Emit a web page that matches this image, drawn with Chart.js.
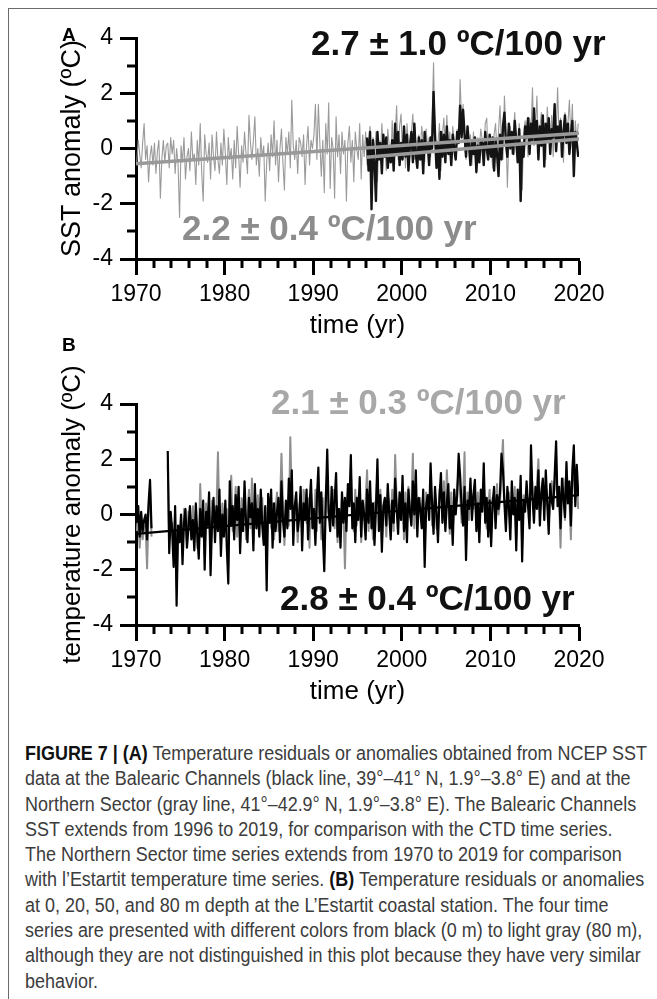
<!DOCTYPE html>
<html>
<head>
<meta charset="utf-8">
<script src="https://cdn.jsdelivr.net/npm/chart.js@4.4.1/dist/chart.umd.min.js"></script>
<style>
  html, body { margin: 0; padding: 0; background: #fff; }
  body { width: 657px; height: 999px; position: relative; overflow: hidden; font-family: 'Liberation Sans', Arial, sans-serif; }
  .frame-top { position: absolute; left: 8px; top: 8px; right: 0; border-top: 1px solid #6b6b6b; }
  .frame-left { position: absolute; left: 8px; top: 8px; bottom: 0; border-left: 1px solid #6b6b6b; }
  .wrap { position: absolute; left: 0; width: 657px; }
  #wrapA { top: 0; height: 345px; }
  #wrapB { top: 345px; height: 370px; }
  .panel { position: absolute; font-weight: bold; font-size: 19px; line-height: 19px; color: #000; }
  .rate { position: absolute; font-weight: bold; font-size: 35px; line-height: 35px; white-space: nowrap; }
  #caption { position: absolute; left: 25px; top: 741px; font-size: 19.5px; line-height: 25.3px; color: #3c3c3c; white-space: nowrap; transform-origin: 0 0; }
  #caption b { color: #111; }
</style>
</head>
<body>
<div class="frame-top"></div>
<div class="frame-left"></div>

<div class="wrap" id="wrapA"><canvas id="chartA" width="657" height="345"></canvas></div>
<div class="wrap" id="wrapB"><canvas id="chartB" width="657" height="370"></canvas></div>

<div class="panel" style="left:62px; top:25px;">A</div>
<div class="panel" style="left:62px; top:335px;">B</div>

<div class="rate" style="left:311px; top:25px; color:#111;">2.7 ± 1.0 ºC/100 yr</div>
<div class="rate" style="left:182px; top:210px; color:#8c8c8c;">2.2 ± 0.4 ºC/100 yr</div>
<div class="rate" style="left:271px; top:384px; color:#a8a8a8;">2.1 ± 0.3 ºC/100 yr</div>
<div class="rate" style="left:280px; top:580px; color:#111;">2.8 ± 0.4 ºC/100 yr</div>

<div id="caption"><span id="capLine1"><b>FIGURE 7 | (A)</b> Temperature residuals or anomalies obtained from NCEP SST</span><br>data at the Balearic Channels (black line, 39°–41° N, 1.9°–3.8° E) and at the<br>Northern Sector (gray line, 41°–42.9° N, 1.9°–3.8° E). The Balearic Channels<br>SST extends from 1996 to 2019, for comparison with the CTD time series.<br>The Northern Sector time series extends from 1970 to 2019 for comparison<br>with l’Estartit temperature time series. <b>(B)</b> Temperature residuals or anomalies<br>at 0, 20, 50, and 80 m depth at the L’Estartit coastal station. The four time<br>series are presented with different colors from black (0 m) to light gray (80 m),<br>although they are not distinguished in this plot because they have very similar<br>behavior.</div>

<script>
// ---- axes ----
var xTicks = [1970, 1980, 1990, 2000, 2010, 2020];
var xMinorTicks = [1972, 1974, 1976, 1978, 1982, 1984, 1986, 1988, 1992, 1994, 1996, 1998,
                   2002, 2004, 2006, 2008, 2012, 2014, 2016, 2018];
var yTicks = [-4, -2, 0, 2, 4];
var yMinorTicks = [-3, -1, 1, 3];

// ---- panel A: NCEP SST anomalies, 6 values per year ----
var northStart = 1970;
var northSST = [
  -0.5, 0.3, -0.2, -0.7, 0.2, 0.9,
  -0.4, 0.1, -1.2, -0.3, 0.1, -0.6,
  0.2, -0.9, -0.1, 0.3, -1.8, -0.4,
  0.3, -0.5, 0.1, 0.2, -0.7, 0.4,
  -0.2, 0.3, -0.9, 0.0, -0.6, -2.5,
  0.1, -0.5, 0.4, -1.1, -0.3, 0.0,
  -0.8, 0.6, -0.4, -0.2, -1.3, 0.3,
  -0.6, 0.9, -0.9, -1.9, 0.5, -0.2,
  -0.5, 0.2, -1.1, 0.5, -0.3, -0.8,
  0.6, -0.4, -0.9, 0.2, -0.6, 0.7,
  -0.2, -1.3, 0.4, -0.4, 0.0, -1.1,
  0.3, -0.7, 0.8, -0.2, -1.4, 0.1,
  -0.5, 0.6, -0.2, -0.9, 1.2, 0.2,
  -0.4, 0.3, 1.15, -0.6, 0.0, -1.0,
  0.4, -0.3, 0.1, -1.9, -0.5, 0.2,
  -0.8, 0.5, -0.3, 1.0, -0.6, 0.3,
  -1.2, 0.0, 0.7, -0.5, -1.5, 0.4,
  -0.2, 0.6, -0.7, 1.75, 0.1, -0.4,
  0.3, -0.9, 0.4, 0.2, -0.3, 0.5,
  -1.3, 0.1, 0.8, -0.6, 0.3, 0.0,
  0.5, 1.6, -0.4, 1.6, 0.2, -1.0,
  0.3, -1.6, 0.9, -0.2, 1.65, -1.45,
  0.4, 0.0, -1.8, 1.15, -0.3, 0.5,
  -0.9, 0.6, -0.2, 0.3, -1.9, 0.2,
  0.8, -0.5, 0.3, -1.2, 0.6, 0.0,
  -0.4, 0.9, -1.1, 0.5, -0.3, 0.6,
  -0.6, 0.2, 0.8, -0.9, 0.4, -0.3,
  0.6, -1.2, 0.3, -0.4, 0.9, -0.1,
  0.2, -0.8, 0.7, 0.1, -0.5, 1.0,
  -0.3, 0.5, 1.55, -0.4, 0.8, 1.25,
  -0.2, 0.4, -0.7, 0.9, 0.1, -0.3,
  0.6, 1.25, -0.4, 0.3, -0.6, 0.5,
  -0.1, 0.8, 0.2, -0.5, 0.7, 0.0,
  0.4, -0.3, 1.0, 3.1, 0.3, -0.6,
  0.2, 0.9, -0.8, 0.5, 1.1, -0.2,
  1.2, 0.0, 0.6, -0.5, 0.8, 0.3,
  -0.3, 0.7, 0.4, 2.5, 0.9, 1.6,
  0.2, -0.4, 0.8, 0.1, 0.5, -0.6,
  0.6, -0.2, -0.9, 0.4, 0.0, 0.7,
  0.3, -0.5, 0.9, 1.1, -0.3, 0.4,
  0.1, -0.7, 0.5, 0.9, -0.2, 0.6,
  1.55, 0.2, -0.4, 1.9, 0.7, -1.4,
  0.3, 0.8, -0.2, 0.6, 1.3, 0.0,
  -0.4, 0.9, 0.2, -1.5, 0.5, 1.0,
  0.4, -0.3, 1.1, 0.6, 2.2, 0.1,
  0.8, 1.9, -0.2, 0.7, 1.3, 0.3,
  0.9, -0.4, 1.5, 0.6, 0.2, 1.2,
  -0.3, 1.0, 0.5, 2.2, 0.4, 1.1,
  0.6, -0.5, 1.3, 0.2, 0.9, 1.75,
  0.4, 1.6, -0.2, 1.0, 0.3, 0.9
];
var balearicStart = 1996;
var balearicSST = [
  0.4, -0.8, 0.6, -2.2, 0.3, -0.5,
  -1.9, 0.6, -0.4, 0.2, -0.9, 0.5,
  -0.3, 0.4, -0.7, 0.0, -0.5, 0.3,
  -0.8, 0.9, -0.2, 0.6, -0.6, 0.2,
  -0.4, 0.8, -0.3, 0.5, -0.8, 0.1,
  0.6, -0.5, 0.9, -0.2, -0.7, 0.4,
  -0.4, 0.3, -0.9, 0.6, -0.1, 0.2,
  -0.6, 0.4, 0.0, 2.05, 0.5, -0.7,
  0.2, -1.1, 0.6, -0.3, 0.5, -0.5,
  0.8, -0.2, 0.3, -0.6, 0.5, 0.0,
  -0.4, 0.6, 0.2, 1.55, 0.4, 1.4,
  0.5, -0.3, 0.8, 0.1, -0.6, 0.3,
  -0.2, 0.4, -0.85, 0.1, -0.5, 0.3,
  0.2, -0.6, 0.6, 0.0, -0.4, 0.5,
  -0.3, 0.4, -0.8, 0.3, -0.2, -1.0,
  0.5, -0.4, 0.8, 1.3, 0.2, -0.3,
  0.9, 0.0, 0.6, -0.2, 1.0, 0.3,
  -0.5, 0.7, -1.9, 0.2, -0.3, 0.8,
  0.4, 1.1, -0.2, 0.9, 0.3, 1.45,
  0.2, 1.0, -0.4, 0.8, 0.1, 1.2,
  -0.65, 0.9, 0.3, 1.1, -0.2, 0.7,
  0.4, 1.6, -0.1, 0.8, 0.3, 1.0,
  -0.3, 0.6, 1.2, 0.2, 0.9, -0.2,
  0.5, 1.0, -1.0, 0.6, 0.2, -0.3
];
var northTrendYears = [1970, 2020];
var northTrend = [-0.55, 0.55];
var balearicTrendYears = [1996, 2020];
var balearicTrend = [-0.32, 0.34];

// ---- panel B: L'Estartit anomalies, 6 values per year (null = no data) ----
var estartitStart = 1970;
var estartit0m = [
  -0.3, 0.3, -0.8, 0.1, -0.6, -0.2,
  0.0, -0.9, 0.4, 1.25, -0.5, null,
  null, null, null, null, null, null,
  null, null, null, 2.3, -1.4, 0.1,
  -0.6, -1.9, 0.3, -3.3, -0.4, -1.0,
  0.0, -1.8, -0.3, 0.2, -1.2, -0.5,
  0.3, -0.9, -0.2, -1.3, 0.4, -0.7,
  -1.6, 0.2, -0.8, 0.5, -2.0, 0.1,
  -0.4, 0.8, -2.2, -0.3, 0.6, -1.0,
  0.3, -0.6, 0.9, -1.5, 0.0, -0.8,
  0.5, -1.2, -2.5, 1.2, -0.4, 0.3,
  -0.9, 0.7, -0.2, 1.0, -1.4, 0.2,
  -0.6, 1.2, -0.3, -1.0, 0.6, -0.1,
  0.4, -1.3, 1.1, -0.5, 0.2, -0.8,
  0.9, -0.4, -1.1, 0.3, -2.75, 0.75,
  -0.3, 0.9, -1.2, 0.4, -0.6, 0.1,
  0.6, -1.0, 1.2, -0.2, -0.8, 0.5,
  -0.5, 1.3, 0.2, 1.6, -1.1, 0.3,
  0.8, -0.6, -0.1, 1.0, -1.3, 0.4,
  -0.2, 0.9, -0.9, 0.3, 1.25, -0.5,
  0.2, -1.1, 0.6, 1.7, -0.3, 0.8,
  -0.7, -2.05, 0.4, 2.35, 0.1, -0.6,
  1.0, -0.4, 0.5, 1.5, -0.8, 0.2,
  -1.2, 0.8, -0.3, 0.6, -0.6, 1.1,
  0.3, 2.15, -0.5, 0.4, -1.0, 0.6,
  -0.2, 1.35, -0.8, 0.5, 0.0, -0.9,
  0.9, -0.3, 1.2, -0.5, 0.4, -1.1,
  0.2, 2.0, -0.6, 0.7, -1.35, 0.3,
  0.6, -0.4, 1.1, 0.0, -0.9, 0.5,
  -0.3, 1.3, 0.2, -0.7, 0.8, -0.2,
  1.4, -0.6, 0.4, -1.0, 0.9, 0.1,
  -0.4, 1.2, 0.0, 1.6, -0.8, 0.6,
  0.2, -0.5, 0.9, -1.9, 0.3, 0.7,
  -0.2, 1.85, 0.4, -0.7, 1.0, 0.1,
  -1.0, 0.6, 1.5, -0.3, 0.8, -0.6,
  0.4, 1.1, -0.5, 0.3, -1.1, 0.9,
  0.0, 0.7, 2.2, 1.4, 0.3, -0.4,
  1.0, -1.65, 0.5, 0.2, 1.3, -0.2,
  0.7, 1.25, -0.6, 0.4, -1.0, 0.9,
  0.1, 1.85, -0.3, 0.6, -0.8, 0.5,
  -1.15, 0.4, 1.0, -0.5, 0.7, 0.2,
  0.8, 2.2, 1.6, 0.4, -0.6, 1.0,
  0.3, -0.9, 1.2, 0.0, 0.6, -1.3,
  0.9, -0.2, 1.4, -1.7, 0.5, 0.1,
  1.2, 0.3, -0.5, 2.5, 0.6, -0.3,
  1.0, 0.2, 1.6, -0.4, 0.8, 1.3,
  -0.2, 1.6, 0.4, -0.7, 1.1, 0.5,
  0.2, 1.4, 2.65, 0.3, 1.0, -0.5,
  1.3, 0.6, -0.1, 1.9, 0.4, 1.2,
  -0.4, 1.6, 2.5, 0.3, 1.8, 0.7
];
var estartit80m = [
  -0.6, 0.0, -1.2, -0.3, -0.9, -0.5,
  -0.4, -1.95, 0.1, 0.9, -0.8, null,
  null, null, null, null, null, null,
  null, null, null, 1.8, -1.0, -0.3,
  -0.3, -1.5, 0.1, -2.6, -0.7, -0.4,
  -0.8, -1.2, 0.2, -0.4, -1.0, 0.1,
  0.0, -0.7, 0.3, -1.0, 0.1, -1.2,
  -1.0, 1.1, -0.5, 0.2, -1.5, 0.4,
  -0.2, 0.3, -1.6, 0.5, 0.1, -0.6,
  0.1, 2.25, -0.4, -1.1, 0.4, -0.3,
  -0.5, 0.2, -1.9, 0.6, 1.4, -0.6,
  -0.3, 1.0, -0.8, 0.4, -1.0, 0.6,
  0.2, 0.8, -0.9, -0.2, 0.9, -0.5,
  1.3, -1.0, 0.5, -0.1, 0.7, -0.4,
  0.2, 0.6, -0.8, 0.1, -2.0, 0.3,
  0.6, -0.5, 0.4, -0.9, 0.2, 0.8,
  -0.6, 0.3, 2.2, 0.4, -1.1, 0.1,
  0.3, -0.4, 2.8, 0.6, -0.6, 0.0,
  0.5, -1.0, 0.2, 0.7, -0.8, 0.9,
  0.4, -0.3, 0.6, -1.2, 0.8, 0.0,
  -0.4, 0.9, -0.6, 1.0, 0.3, -0.9,
  0.6, -1.4, 0.8, 1.4, -0.2, 0.3,
  0.4, 0.9, -0.5, 0.6, -1.0, 0.2,
  -0.5, 0.6, 0.1, -1.95, 0.4, 0.8,
  0.7, 1.6, 0.0, -0.6, 0.9, -0.4,
  0.6, 0.9, -1.0, 0.3, -0.2, 0.5,
  1.6, -0.6, 0.6, 0.1, -0.9, 0.4,
  0.5, 1.4, -0.3, 0.9, -1.0, 0.0,
  0.3, -0.8, 0.7, 0.4, -0.4, 0.9,
  -0.6, 2.15, 0.5, -0.2, 0.6, 0.3,
  0.9, -0.9, 0.8, -0.4, 1.0, -0.1,
  0.3, 2.2, -0.5, 0.9, -0.3, 0.4,
  0.6, -0.2, 0.5, -1.3, 0.8, 0.2,
  0.2, 1.3, -0.4, 0.1, 0.6, -0.5,
  -0.6, 0.9, 1.0, 0.2, 1.2, -0.3,
  1.6, 0.4, -0.7, 0.8, -0.5, 0.3,
  0.4, 1.0, 1.6, 0.7, -0.3, 0.5,
  2.25, -1.2, 0.8, -0.2, 0.9, 0.3,
  0.2, 0.9, -0.3, 0.8, -0.7, 0.4,
  0.6, 1.2, 0.0, -0.5, 0.3, 0.9,
  -0.7, 0.6, 0.4, -0.2, 1.1, 0.0,
  0.4, 1.6, 2.7, 0.6, -0.3, 0.7,
  0.8, -0.5, 0.6, 0.3, 1.0, -0.9,
  0.5, 0.2, 0.9, -1.2, 0.7, 0.4,
  0.8, 0.6, 0.0, 1.8, 1.0, 0.1,
  0.6, 1.1, 2.0, 0.2, 0.5, 0.9,
  0.3, 1.0, 0.7, -0.4, 0.8, 1.2,
  0.6, 0.9, 1.8, 0.5, 0.6, -1.2,
  0.9, 1.3, -0.2, 1.6, 0.8, 0.5,
  -0.9, 1.2, 1.9, 0.6, 1.3, 0.2
];
var estartitTrendYears = [1970, 2020];
var estartitTrend = [-0.7, 0.7];

// ---- helpers ----
function seriesPoints(startYear, values) {
  return values.map(function(v, i) { return { x: startYear + (i + 0.5) / 6, y: v }; });
}
function pairPoints(years, values) {
  return years.map(function(yr, i) { return { x: yr, y: values[i] }; });
}

Chart.defaults.font.family = "'Liberation Sans', Arial, sans-serif";
Chart.defaults.color = '#000';

var minorTickPlugin = {
  id: 'minorTicks',
  afterDraw: function(chart) {
    var ctx = chart.ctx, area = chart.chartArea;
    var xs = chart.scales.x, ys = chart.scales.y;
    ctx.save();
    ctx.strokeStyle = '#000';
    ctx.lineWidth = 3;
    xMinorTicks.forEach(function(v) {
      var px = Math.round(xs.getPixelForValue(v));
      ctx.beginPath(); ctx.moveTo(px, area.bottom); ctx.lineTo(px, area.bottom + 9); ctx.stroke();
    });
    yMinorTicks.forEach(function(v) {
      var py = Math.round(ys.getPixelForValue(v));
      ctx.beginPath(); ctx.moveTo(area.left - 9, py); ctx.lineTo(area.left, py); ctx.stroke();
    });
    ctx.restore();
  }
};

function panelOptions(yTitle, yTitleSize, padTop, xHeight, xTitlePad) {
  return {
    responsive: false,
    animation: false,
    events: [],
    layout: { padding: { top: padTop, right: 78, left: 0, bottom: 0 } },
    plugins: { legend: { display: false }, tooltip: { enabled: false } },
    scales: {
      x: {
        type: 'linear',
        min: 1970,
        max: 2020,
        afterBuildTicks: function(scale) { scale.ticks = xTicks.map(function(v) { return { value: v }; }); },
        afterFit: function(scale) { scale.height = xHeight; },
        grid: { display: true, drawOnChartArea: false, drawTicks: true, tickLength: 16, tickWidth: 3, tickColor: '#000' },
        border: { display: true, width: 3, color: '#000' },
        ticks: { font: { size: 23 }, padding: 6, color: '#000', maxRotation: 0, callback: function(v) { return String(v); } },
        title: { display: true, text: 'time (yr)', font: { size: 26 }, color: '#000', padding: { top: 0, bottom: xTitlePad } }
      },
      y: {
        type: 'linear',
        min: -4,
        max: 4,
        afterBuildTicks: function(scale) { scale.ticks = yTicks.map(function(v) { return { value: v }; }); },
        afterFit: function(scale) { scale.width = 136; },
        grid: { display: true, drawOnChartArea: false, drawTicks: true, tickLength: 16, tickWidth: 3, tickColor: '#000' },
        border: { display: true, width: 3, color: '#000' },
        ticks: { font: { size: 23 }, padding: 7, color: '#000' },
        title: { display: true, text: yTitle, font: { size: yTitleSize }, color: '#000', padding: { top: 73 - yTitleSize * 0.6, bottom: 0 } }
      }
    }
  };
}

document.addEventListener('DOMContentLoaded', function() {

  // Panel A
  new Chart(document.getElementById('chartA').getContext('2d'), {
    type: 'line',
    data: {
      datasets: [
        { label: 'Northern Sector trend', data: pairPoints(northTrendYears, northTrend), borderColor: '#999999', borderWidth: 3.5, pointRadius: 0, order: 0 },
        { label: 'Balearic Channels trend', data: pairPoints(balearicTrendYears, balearicTrend), borderColor: '#999999', borderWidth: 3.5, pointRadius: 0, order: 0 },
        { label: 'Balearic Channels', data: seriesPoints(balearicStart, balearicSST), borderColor: '#141414', borderWidth: 2.4, pointRadius: 0, tension: 0, borderJoinStyle: 'round', order: 1 },
        { label: 'Northern Sector', data: seriesPoints(northStart, northSST), borderColor: '#9a9a9a', borderWidth: 1.1, pointRadius: 0, tension: 0, borderJoinStyle: 'round', order: 2 }
      ]
    },
    options: panelOptions('SST anomaly (ºC)', 27, 38, 86, 3.4),
    plugins: [minorTickPlugin]
  });

  // Panel B
  new Chart(document.getElementById('chartB').getContext('2d'), {
    type: 'line',
    data: {
      datasets: [
        { label: 'trend', data: pairPoints(estartitTrendYears, estartitTrend), borderColor: '#000', borderWidth: 2.2, pointRadius: 0, order: 0 },
        { label: '0 m', data: seriesPoints(estartitStart, estartit0m), borderColor: '#000', borderWidth: 2.2, pointRadius: 0, tension: 0, spanGaps: false, borderJoinStyle: 'round', order: 1 },
        { label: '80 m', data: seriesPoints(estartitStart, estartit80m), borderColor: '#8f8f8f', borderWidth: 2, pointRadius: 0, tension: 0, spanGaps: false, borderJoinStyle: 'round', order: 2 }
      ]
    },
    options: panelOptions('temperature anomaly (ºC)', 26, 59, 90, 7.4),
    plugins: [minorTickPlugin]
  });

  // fit the caption's condensed width
  var cap = document.getElementById('caption');
  var w = document.getElementById('capLine1').getBoundingClientRect().width;
  cap.style.transform = 'scaleX(' + (622 / w).toFixed(4) + ')';
});
</script>
</body>
</html>
